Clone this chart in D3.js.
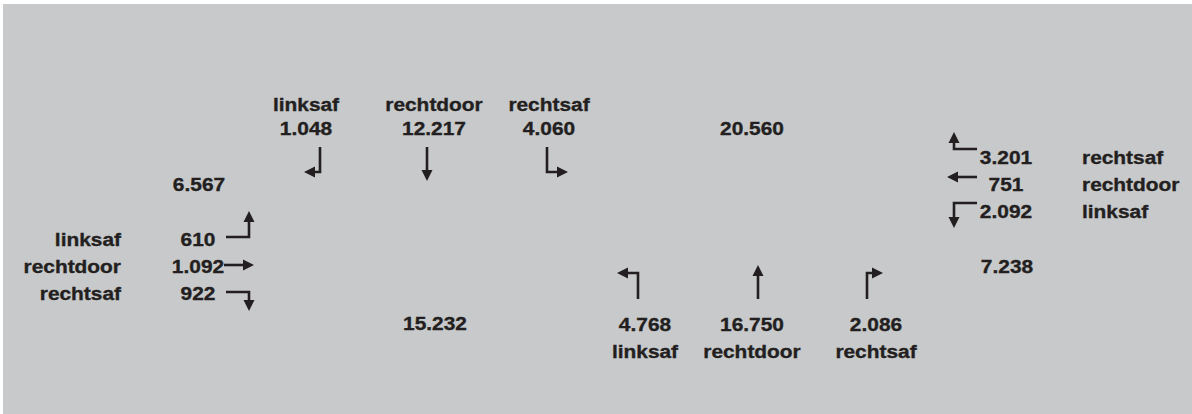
<!DOCTYPE html>
<html>
<head>
<meta charset="utf-8">
<script src="https://cdn.jsdelivr.net/npm/d3@7"></script>
<style>
  body { margin: 0; background: #fff; }
  svg text { font-family: "Liberation Sans", Arial, sans-serif; font-weight: bold; font-size: 18.5px; fill: #231f20; stroke: #231f20; stroke-width: 0.35px; }
</style>
</head>
<body>
<svg id="chart"></svg>
<script>
// movements per approach, counts
const movements = ["linksaf", "rechtdoor", "rechtsaf"];
const northCounts = [1048, 12217, 4060];
const westCounts = [610, 1092, 922];
const eastCounts = [2092, 751, 3201];
const southCounts = [4768, 16750, 2086];
// arm totals
const totalLabels = ["noordUit", "westUit", "oostUit", "zuidUit"];
const totalValues = [20560, 6567, 7238, 15232];

const width = 1192, height = 414;
const fmt = d3.formatLocale({ thousands: ".", decimal: ",", grouping: [3], currency: ["", ""] }).format(",");

const svg = d3.select("#chart").attr("width", width).attr("height", height);

svg.append("rect")
  .attr("x", 3).attr("y", 4)
  .attr("width", width - 3).attr("height", height - 4)
  .attr("fill", "#c8c9cb");

const g = svg.append("g");

function label(x, y, txt, anchor) {
  g.append("text")
    .attr("transform", `translate(${x},${y}) scale(1.13,1)`)
    .attr("text-anchor", anchor || "middle")
    .text(txt);
}

// polyline with triangular head at the last point
function arrow(pts) {
  const line = d3.line();
  const n = pts.length;
  const [x1, y1] = pts[n - 2], [x2, y2] = pts[n - 1];
  const ang = Math.atan2(y2 - y1, x2 - x1);
  const headLen = 11, headW = 5.5;
  const bx = x2 - headLen * Math.cos(ang), by = y2 - headLen * Math.sin(ang);
  const shaft = pts.slice(0, n - 1).concat([[bx + Math.cos(ang), by + Math.sin(ang)]]);
  g.append("path")
    .attr("d", line(shaft))
    .attr("fill", "none")
    .attr("stroke", "#231f20")
    .attr("stroke-width", 2.6);
  const px = -Math.sin(ang), py = Math.cos(ang);
  g.append("path")
    .attr("d", line([[x2, y2], [bx + px * headW, by + py * headW], [bx - px * headW, by - py * headW]]) + "Z")
    .attr("fill", "#231f20");
}

// ---- north arm (top)
const nText = d3.scaleOrdinal().domain(movements).range([306, 434, 549]);
const nArrow = d3.scaleOrdinal().domain(movements).range([320, 427, 547]);
movements.forEach((m, i) => {
  label(nText(m), 111, m);
  label(nText(m), 135, fmt(northCounts[i]));
});
arrow([[nArrow("linksaf"), 147], [nArrow("linksaf"), 172], [nArrow("linksaf") - 16, 172]]);
arrow([[nArrow("rechtdoor"), 147], [nArrow("rechtdoor"), 181]]);
arrow([[nArrow("rechtsaf"), 147], [nArrow("rechtsaf"), 172], [nArrow("rechtsaf") + 21, 172]]);

// ---- west arm (left)
const wY = d3.scaleOrdinal().domain(movements).range([246, 273, 300]);
const wArrowY = d3.scaleOrdinal().domain(movements).range([237, 265, 292]);
movements.forEach((m, i) => {
  label(121, wY(m), m, "end");
  label(198, wY(m), fmt(westCounts[i]));
});
arrow([[226, wArrowY("linksaf")], [249, wArrowY("linksaf")], [249, 211]]);
arrow([[224, wArrowY("rechtdoor")], [254, wArrowY("rechtdoor")]]);
arrow([[226, wArrowY("rechtsaf")], [249, wArrowY("rechtsaf")], [249, 311]]);

// ---- east arm (right)
const eMoves = ["rechtsaf", "rechtdoor", "linksaf"];
const eY = d3.scaleOrdinal().domain(eMoves).range([164, 191, 218]);
const eArrowY = d3.scaleOrdinal().domain(eMoves).range([149, 177, 203]);
eMoves.forEach(m => {
  const v = eastCounts[movements.indexOf(m)];
  label(1006, eY(m), fmt(v));
  label(1082, eY(m), m, "start");
});
arrow([[977, eArrowY("rechtsaf")], [954, eArrowY("rechtsaf")], [954, 132]]);
arrow([[977, eArrowY("rechtdoor")], [947, eArrowY("rechtdoor")]]);
arrow([[977, eArrowY("linksaf")], [954, eArrowY("linksaf")], [954, 228]]);

// ---- south arm (bottom)
const sText = d3.scaleOrdinal().domain(movements).range([645, 752, 876]);
const sArrow = d3.scaleOrdinal().domain(movements).range([638, 758, 867]);
movements.forEach((m, i) => {
  label(sText(m), 331, fmt(southCounts[i]));
  label(sText(m), 358, m);
});
arrow([[sArrow("linksaf"), 299], [sArrow("linksaf"), 273], [sArrow("linksaf") - 21, 273]]);
arrow([[sArrow("rechtdoor"), 299], [sArrow("rechtdoor"), 265]]);
arrow([[sArrow("rechtsaf"), 299], [sArrow("rechtsaf"), 273], [sArrow("rechtsaf") + 16, 273]]);

// ---- totals
const totX = d3.scaleOrdinal().domain(totalLabels).range([752, 199, 1007, 435]);
const totY = d3.scaleOrdinal().domain(totalLabels).range([135, 191, 273, 330]);
totalLabels.forEach((k, i) => label(totX(k), totY(k), fmt(totalValues[i])));
</script>
</body>
</html>
